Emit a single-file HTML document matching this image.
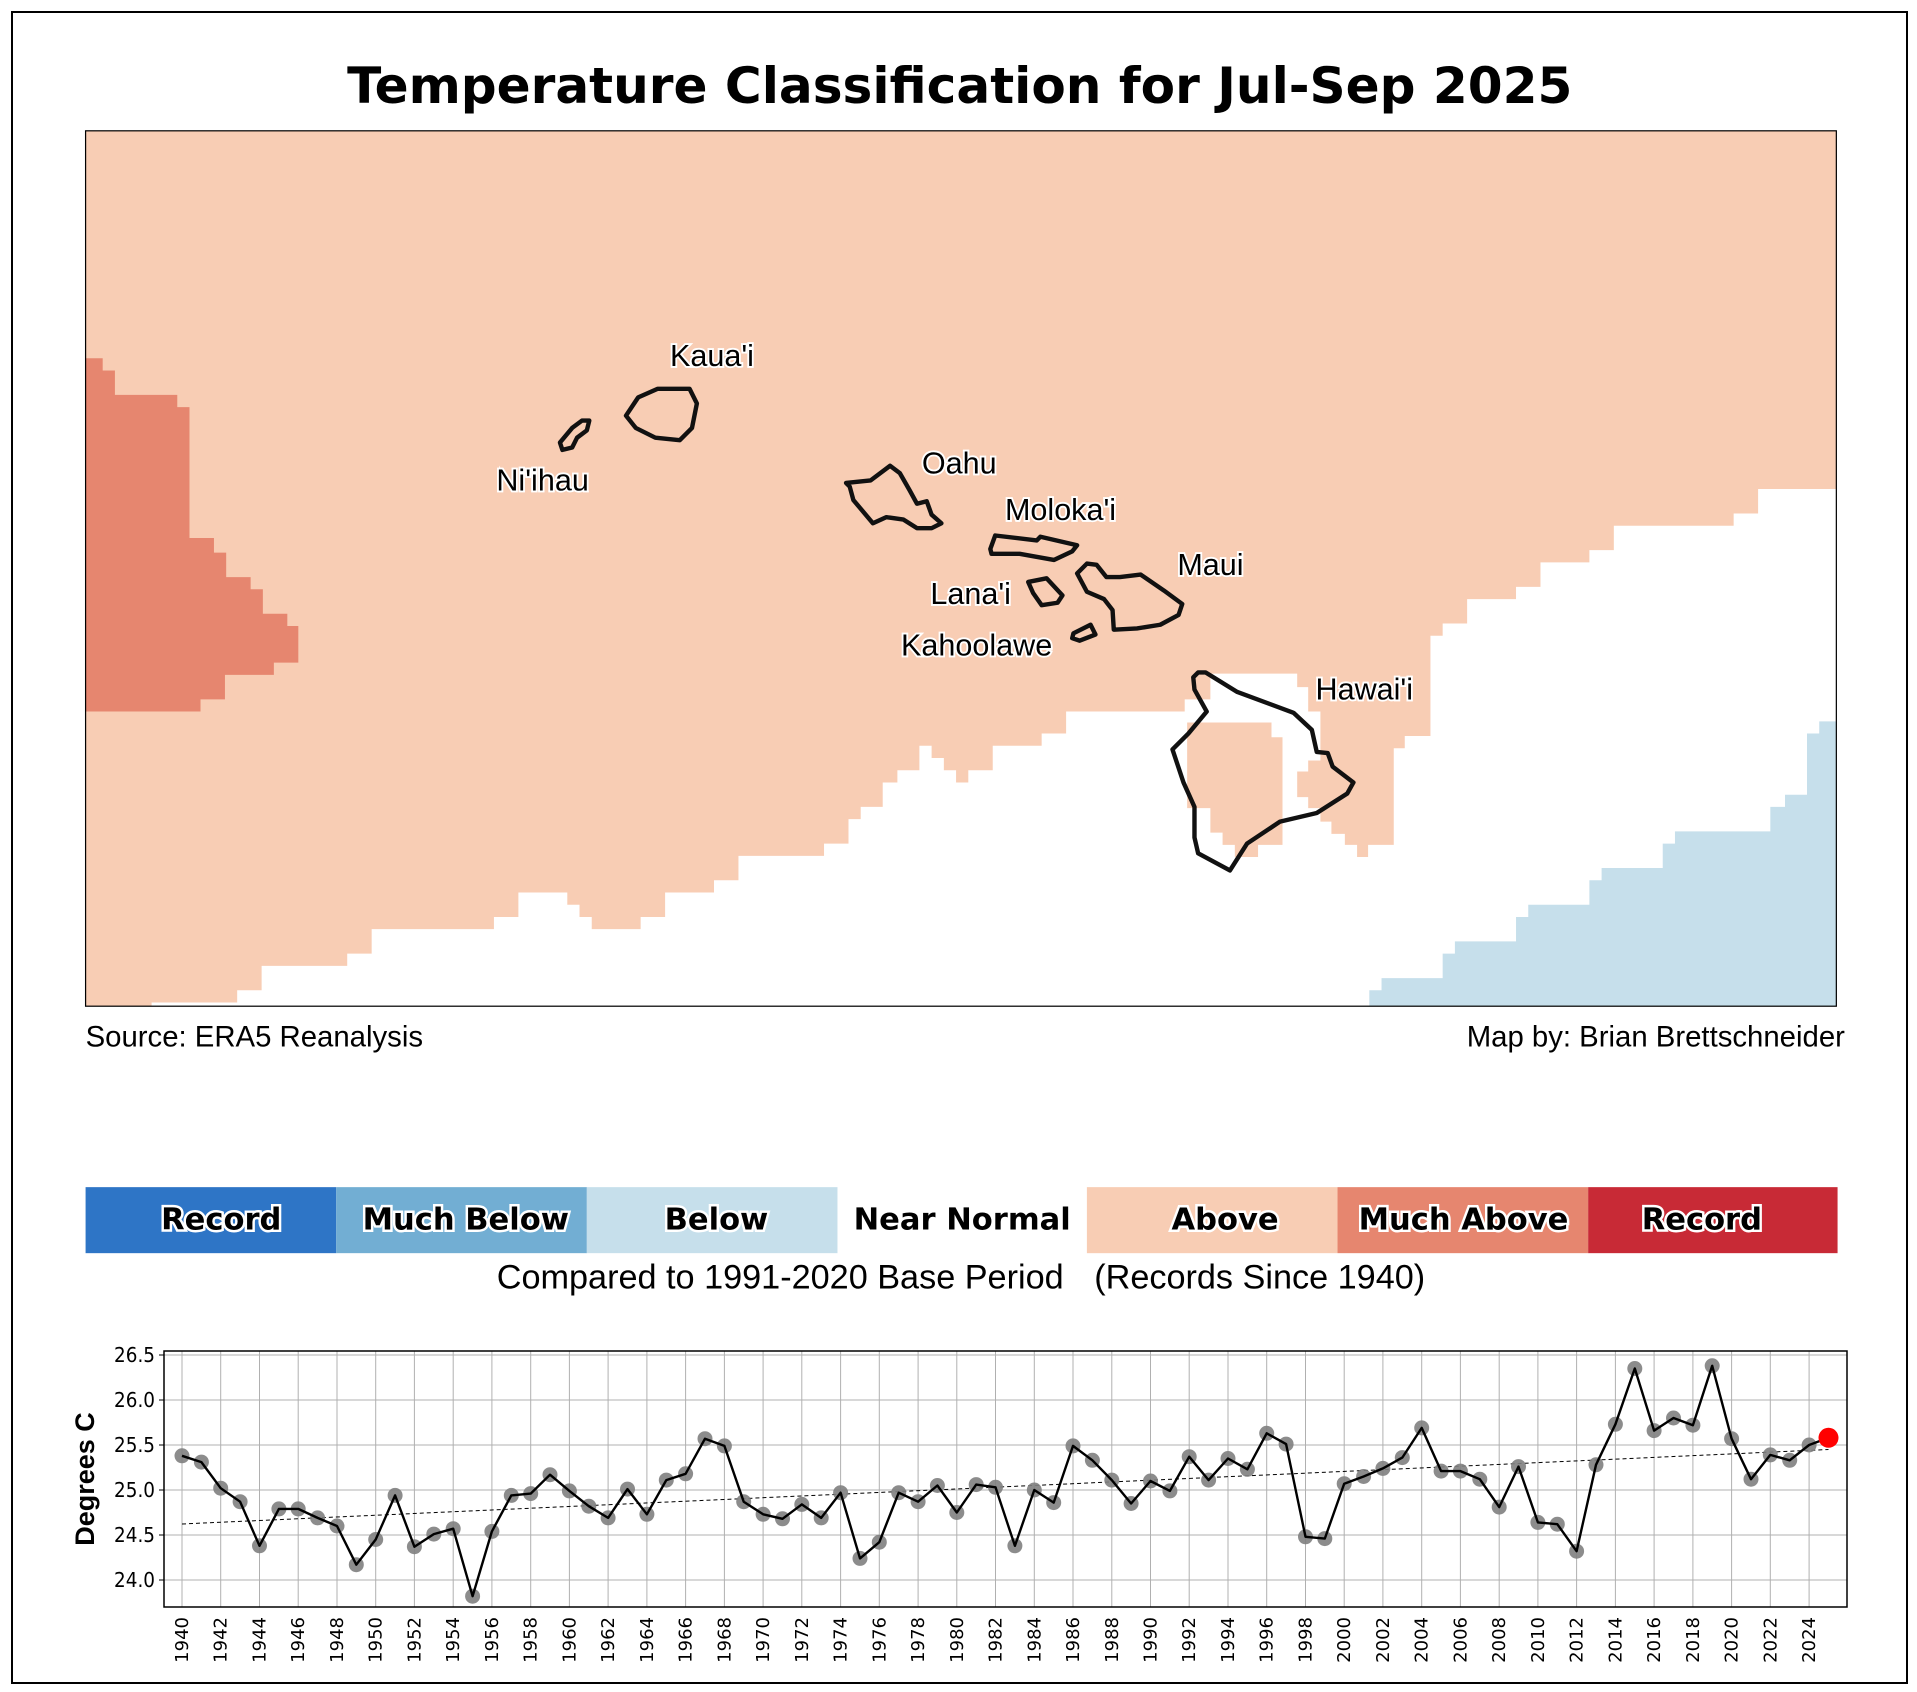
<!DOCTYPE html>
<html><head><meta charset="utf-8"><style>
html,body{margin:0;padding:0;background:#fff;}
svg{display:block;}
</style></head><body>
<svg width="1917" height="1692" viewBox="0 0 1917 1692" xmlns="http://www.w3.org/2000/svg">
<rect x="0" y="0" width="1917" height="1692" fill="#fff"/>
<rect x="12" y="12" width="1895" height="1671" fill="none" stroke="#000" stroke-width="2"/>
<g transform="scale(1.2226)">
<text x="785" y="70" text-anchor="middle" dominant-baseline="central" font-family="DejaVu Sans, sans-serif" font-weight="bold" font-size="41">Temperature Classification for Jul-Sep 2025</text>
<rect x="70" y="107" width="1432" height="716" fill="#f8cdb4"/>
<polygon fill="#e6866f" points="70,293 84,293 84,303 94,303 94,323 145,323 145,333 155,333 155,440 175,440 175,452 185,452 185,472 205,472 205,482 215,482 215,502 235,502 235,512 244,512 244,542 224,542 224,552 184,552 184,572 164,572 164,582 70,582"/>
<polygon fill="#fff" points="124,823 124,820 194,820 194,810 214,810 214,790 284,790 284,780 304,780 304,760 404,760 404,750 424,750 424,730 464,730 464,740 474,740 474,750 484,750 484,760 524,760 524,750 544,750 544,730 584,730 584,720 604,720 604,700 674,700 674,690 694,690 694,670 704,670 704,660 722,660 722,640 734,640 734,630 752,630 752,610 762,610 762,620 772,620 772,630 782,630 782,640 792,640 792,630 812,630 812,610 852,610 852,600 872,600 872,582 969,582 969,572 990,572 990,551 1061,551 1061,562 1070,562 1070,582 1080,582 1080,622 1070,622 1070,631 1061,631 1061,652 1070,652 1070,661 1080,661 1080,672 1089,672 1089,682 1100,682 1100,691 1110,691 1110,701 1119,701 1119,691 1140,691 1140,612 1149,612 1149,602 1170,602 1170,520 1180,520 1180,510 1200,510 1200,490 1240,490 1240,480 1260,480 1260,460 1300,460 1300,450 1320,450 1320,430 1418,430 1418,420 1438,420 1438,400 1502,400 1502,823"/>
<polygon fill="#f8cdb4" points="971,591 1040,591 1040,603 1049,603 1049,691 1029,691 1029,701 1010,701 1010,691 1000,691 1000,681 990,681 990,661 971,661"/>
<polygon fill="#c6dfeb" points="1120,823 1120,810 1130,810 1130,800 1180,800 1180,780 1190,780 1190,770 1240,770 1240,750 1250,750 1250,740 1300,740 1300,720 1310,720 1310,710 1360,710 1360,690 1370,690 1370,680 1448,680 1448,660 1460,660 1460,650 1478,650 1478,600 1488,600 1488,590 1502,590 1502,823"/>
<rect x="70" y="107" width="1432" height="716" fill="none" stroke="#000" stroke-width="1"/>
<g fill="none" stroke="#111" stroke-width="3.6" stroke-linejoin="round">
<polygon points="458,362 468,350 476,344 482,344 480,352 472,358 468,366 460,368"/>
<polygon points="512,340 522,325 538,318 564,318 570,330 566,350 556,360 536,358 520,350"/>
<polygon points="692,395 712,393 728,381 736,387 744,401 750,412 758,410 762,421 770,428 762,432 750,432 739,425 725,423 714,428 698,409 695,398"/>
<polygon points="814,438 848,442 851,439 881,446 877,451 862,458 834,453 811,453 810,449"/>
<polygon points="841,476 856,473 869,487 865,493 852,495 845,485"/>
<polygon points="881,469 889,461 897,462 905,472 916,472 933,470 952,483 967,494 964,503 949,511 930,514 911,515 910,499 903,490 889,484"/>
<polygon points="878,518 892,511 896,519 883,524 877,522"/>
<polygon points="980,550 986,550 1012,566 1058,583 1073,597 1077,615 1086,616 1090,627 1107,640 1102,649 1077,665 1047,672 1020,690 1006,712 980,698 977,685 977,660 968,640 959,613 972,600 987,582 977,564 976,554"/>
</g>
<g font-family="Liberation Sans, sans-serif" font-size="25" fill="#000" stroke="#fff" stroke-width="3" paint-order="stroke" dominant-baseline="central">
<text x="548" y="291">Kaua'i</text>
<text x="406" y="393">Ni'ihau</text>
<text x="754" y="379">Oahu</text>
<text x="822" y="417">Moloka'i</text>
<text x="963" y="462">Maui</text>
<text x="761" y="486">Lana'i</text>
<text x="737" y="528">Kahoolawe</text>
<text x="1076" y="564">Hawai'i</text>
</g>
<g font-family="Liberation Sans, sans-serif" font-size="24" fill="#000" dominant-baseline="central">
<text x="70" y="848">Source: ERA5 Reanalysis</text>
<text x="1509" y="848" text-anchor="end">Map by: Brian Brettschneider</text>
</g>
<rect x="70" y="971" width="205" height="54" fill="#2e75c6"/>
<rect x="275" y="971" width="205" height="54" fill="#72aed3"/>
<rect x="480" y="971" width="205" height="54" fill="#c6dfeb"/>
<rect x="685" y="971" width="204" height="54" fill="#fff"/>
<rect x="889" y="971" width="205" height="54" fill="#f8cdb4"/>
<rect x="1094" y="971" width="205" height="54" fill="#e6866f"/>
<rect x="1299" y="971" width="204" height="54" fill="#c82a36"/>
<g font-family="DejaVu Sans, sans-serif" font-weight="bold" font-size="25" text-anchor="middle" dominant-baseline="central" fill="#000" stroke="#fff" stroke-width="4" paint-order="stroke">
<text x="181" y="998">Record</text>
<text x="381" y="998">Much Below</text>
<text x="586" y="998">Below</text>
<text x="787" y="998">Near Normal</text>
<text x="1002" y="998">Above</text>
<text x="1197" y="998">Much Above</text>
<text x="1392" y="998">Record</text>
</g>
<g font-family="Liberation Sans, sans-serif" font-size="28" dominant-baseline="central">
<text x="870" y="1045" text-anchor="end">Compared to 1991-2020 Base Period</text>
<text x="895" y="1045">(Records Since 1940)</text>
</g>
</g>
<!-- time series -->
<g stroke="#b0b0b0" stroke-width="1">
<line x1="164" x2="1847" y1="1580" y2="1580"/><line x1="164" x2="1847" y1="1535" y2="1535"/><line x1="164" x2="1847" y1="1490" y2="1490"/><line x1="164" x2="1847" y1="1445" y2="1445"/><line x1="164" x2="1847" y1="1400" y2="1400"/><line x1="164" x2="1847" y1="1355" y2="1355"/>
<line x1="182" x2="182" y1="1351" y2="1607"/><line x1="220.7" x2="220.7" y1="1351" y2="1607"/><line x1="259.5" x2="259.5" y1="1351" y2="1607"/><line x1="298.2" x2="298.2" y1="1351" y2="1607"/><line x1="337" x2="337" y1="1351" y2="1607"/><line x1="375.7" x2="375.7" y1="1351" y2="1607"/><line x1="414.4" x2="414.4" y1="1351" y2="1607"/><line x1="453.2" x2="453.2" y1="1351" y2="1607"/><line x1="491.9" x2="491.9" y1="1351" y2="1607"/><line x1="530.7" x2="530.7" y1="1351" y2="1607"/><line x1="569.4" x2="569.4" y1="1351" y2="1607"/><line x1="608.1" x2="608.1" y1="1351" y2="1607"/><line x1="646.9" x2="646.9" y1="1351" y2="1607"/><line x1="685.6" x2="685.6" y1="1351" y2="1607"/><line x1="724.4" x2="724.4" y1="1351" y2="1607"/><line x1="763.1" x2="763.1" y1="1351" y2="1607"/><line x1="801.8" x2="801.8" y1="1351" y2="1607"/><line x1="840.6" x2="840.6" y1="1351" y2="1607"/><line x1="879.3" x2="879.3" y1="1351" y2="1607"/><line x1="918.1" x2="918.1" y1="1351" y2="1607"/><line x1="956.8" x2="956.8" y1="1351" y2="1607"/><line x1="995.5" x2="995.5" y1="1351" y2="1607"/><line x1="1034.3" x2="1034.3" y1="1351" y2="1607"/><line x1="1073" x2="1073" y1="1351" y2="1607"/><line x1="1111.8" x2="1111.8" y1="1351" y2="1607"/><line x1="1150.5" x2="1150.5" y1="1351" y2="1607"/><line x1="1189.2" x2="1189.2" y1="1351" y2="1607"/><line x1="1228" x2="1228" y1="1351" y2="1607"/><line x1="1266.7" x2="1266.7" y1="1351" y2="1607"/><line x1="1305.5" x2="1305.5" y1="1351" y2="1607"/><line x1="1344.2" x2="1344.2" y1="1351" y2="1607"/><line x1="1382.9" x2="1382.9" y1="1351" y2="1607"/><line x1="1421.7" x2="1421.7" y1="1351" y2="1607"/><line x1="1460.4" x2="1460.4" y1="1351" y2="1607"/><line x1="1499.2" x2="1499.2" y1="1351" y2="1607"/><line x1="1537.9" x2="1537.9" y1="1351" y2="1607"/><line x1="1576.6" x2="1576.6" y1="1351" y2="1607"/><line x1="1615.4" x2="1615.4" y1="1351" y2="1607"/><line x1="1654.1" x2="1654.1" y1="1351" y2="1607"/><line x1="1692.9" x2="1692.9" y1="1351" y2="1607"/><line x1="1731.6" x2="1731.6" y1="1351" y2="1607"/><line x1="1770.3" x2="1770.3" y1="1351" y2="1607"/><line x1="1809.1" x2="1809.1" y1="1351" y2="1607"/>
</g>
<rect x="164" y="1351" width="1683" height="256" fill="none" stroke="#000" stroke-width="1.5"/>
<g stroke="#000" stroke-width="1">
<line x1="159" x2="164" y1="1580" y2="1580"/><line x1="159" x2="164" y1="1535" y2="1535"/><line x1="159" x2="164" y1="1490" y2="1490"/><line x1="159" x2="164" y1="1445" y2="1445"/><line x1="159" x2="164" y1="1400" y2="1400"/><line x1="159" x2="164" y1="1355" y2="1355"/>
</g>
<g font-family="DejaVu Sans, sans-serif" font-size="20" text-anchor="end" dominant-baseline="central" transform="translate(155,0) scale(0.92,1) translate(-155,0)">
<text x="155" y="1580">24.0</text><text x="155" y="1535">24.5</text><text x="155" y="1490">25.0</text><text x="155" y="1445">25.5</text><text x="155" y="1400">26.0</text><text x="155" y="1355">26.5</text>
</g>
<text transform="translate(94,1479) rotate(-90)" text-anchor="middle" font-family="Liberation Sans, sans-serif" font-weight="bold" font-size="27">Degrees C</text>
<g font-family="DejaVu Sans, sans-serif" font-size="18" text-anchor="end">
<text transform="translate(188,1617) rotate(-90)">1940</text><text transform="translate(226.7,1617) rotate(-90)">1942</text><text transform="translate(265.5,1617) rotate(-90)">1944</text><text transform="translate(304.2,1617) rotate(-90)">1946</text><text transform="translate(343,1617) rotate(-90)">1948</text><text transform="translate(381.7,1617) rotate(-90)">1950</text><text transform="translate(420.4,1617) rotate(-90)">1952</text><text transform="translate(459.2,1617) rotate(-90)">1954</text><text transform="translate(497.9,1617) rotate(-90)">1956</text><text transform="translate(536.7,1617) rotate(-90)">1958</text><text transform="translate(575.4,1617) rotate(-90)">1960</text><text transform="translate(614.1,1617) rotate(-90)">1962</text><text transform="translate(652.9,1617) rotate(-90)">1964</text><text transform="translate(691.6,1617) rotate(-90)">1966</text><text transform="translate(730.4,1617) rotate(-90)">1968</text><text transform="translate(769.1,1617) rotate(-90)">1970</text><text transform="translate(807.8,1617) rotate(-90)">1972</text><text transform="translate(846.6,1617) rotate(-90)">1974</text><text transform="translate(885.3,1617) rotate(-90)">1976</text><text transform="translate(924.1,1617) rotate(-90)">1978</text><text transform="translate(962.8,1617) rotate(-90)">1980</text><text transform="translate(1001.5,1617) rotate(-90)">1982</text><text transform="translate(1040.3,1617) rotate(-90)">1984</text><text transform="translate(1079,1617) rotate(-90)">1986</text><text transform="translate(1117.8,1617) rotate(-90)">1988</text><text transform="translate(1156.5,1617) rotate(-90)">1990</text><text transform="translate(1195.2,1617) rotate(-90)">1992</text><text transform="translate(1234,1617) rotate(-90)">1994</text><text transform="translate(1272.7,1617) rotate(-90)">1996</text><text transform="translate(1311.5,1617) rotate(-90)">1998</text><text transform="translate(1350.2,1617) rotate(-90)">2000</text><text transform="translate(1388.9,1617) rotate(-90)">2002</text><text transform="translate(1427.7,1617) rotate(-90)">2004</text><text transform="translate(1466.4,1617) rotate(-90)">2006</text><text transform="translate(1505.2,1617) rotate(-90)">2008</text><text transform="translate(1543.9,1617) rotate(-90)">2010</text><text transform="translate(1582.6,1617) rotate(-90)">2012</text><text transform="translate(1621.4,1617) rotate(-90)">2014</text><text transform="translate(1660.1,1617) rotate(-90)">2016</text><text transform="translate(1698.9,1617) rotate(-90)">2018</text><text transform="translate(1737.6,1617) rotate(-90)">2020</text><text transform="translate(1776.3,1617) rotate(-90)">2022</text><text transform="translate(1815.1,1617) rotate(-90)">2024</text>
</g>
<line x1="182" y1="1524" x2="1828.5" y2="1449.5" stroke="#000" stroke-width="1" stroke-dasharray="4,3"/>
<g fill="#808080" fill-opacity="0.9">
<circle cx="182" cy="1455.8" r="7.5"/><circle cx="201.4" cy="1462.1" r="7.5"/><circle cx="220.7" cy="1488.2" r="7.5"/><circle cx="240.1" cy="1501.7" r="7.5"/><circle cx="259.5" cy="1545.8" r="7.5"/><circle cx="278.9" cy="1508.9" r="7.5"/><circle cx="298.2" cy="1508.9" r="7.5"/><circle cx="317.6" cy="1517.9" r="7.5"/><circle cx="337" cy="1526" r="7.5"/><circle cx="356.3" cy="1564.7" r="7.5"/><circle cx="375.7" cy="1539.5" r="7.5"/><circle cx="395.1" cy="1495.4" r="7.5"/><circle cx="414.4" cy="1546.7" r="7.5"/><circle cx="433.8" cy="1534.1" r="7.5"/><circle cx="453.2" cy="1528.7" r="7.5"/><circle cx="472.6" cy="1596.2" r="7.5"/><circle cx="491.9" cy="1531.4" r="7.5"/><circle cx="511.3" cy="1495.4" r="7.5"/><circle cx="530.7" cy="1493.6" r="7.5"/><circle cx="550" cy="1474.7" r="7.5"/><circle cx="569.4" cy="1490.9" r="7.5"/><circle cx="588.8" cy="1506.2" r="7.5"/><circle cx="608.1" cy="1517.9" r="7.5"/><circle cx="627.5" cy="1489.1" r="7.5"/><circle cx="646.9" cy="1514.3" r="7.5"/><circle cx="666.3" cy="1480.1" r="7.5"/><circle cx="685.6" cy="1473.8" r="7.5"/><circle cx="705" cy="1438.7" r="7.5"/><circle cx="724.4" cy="1445.9" r="7.5"/><circle cx="743.7" cy="1501.7" r="7.5"/><circle cx="763.1" cy="1514.3" r="7.5"/><circle cx="782.5" cy="1518.8" r="7.5"/><circle cx="801.8" cy="1504.4" r="7.5"/><circle cx="821.2" cy="1517.9" r="7.5"/><circle cx="840.6" cy="1492.7" r="7.5"/><circle cx="860" cy="1558.4" r="7.5"/><circle cx="879.3" cy="1542.2" r="7.5"/><circle cx="898.7" cy="1492.7" r="7.5"/><circle cx="918.1" cy="1501.7" r="7.5"/><circle cx="937.4" cy="1485.5" r="7.5"/><circle cx="956.8" cy="1512.5" r="7.5"/><circle cx="976.2" cy="1484.6" r="7.5"/><circle cx="995.5" cy="1487.3" r="7.5"/><circle cx="1014.9" cy="1545.8" r="7.5"/><circle cx="1034.3" cy="1490" r="7.5"/><circle cx="1053.7" cy="1502.6" r="7.5"/><circle cx="1073" cy="1445.9" r="7.5"/><circle cx="1092.4" cy="1460.3" r="7.5"/><circle cx="1111.8" cy="1480.1" r="7.5"/><circle cx="1131.1" cy="1503.5" r="7.5"/><circle cx="1150.5" cy="1481" r="7.5"/><circle cx="1169.9" cy="1490.9" r="7.5"/><circle cx="1189.2" cy="1456.7" r="7.5"/><circle cx="1208.6" cy="1480.1" r="7.5"/><circle cx="1228" cy="1458.5" r="7.5"/><circle cx="1247.4" cy="1469.3" r="7.5"/><circle cx="1266.7" cy="1433.3" r="7.5"/><circle cx="1286.1" cy="1444.1" r="7.5"/><circle cx="1305.5" cy="1536.8" r="7.5"/><circle cx="1324.8" cy="1538.6" r="7.5"/><circle cx="1344.2" cy="1483.7" r="7.5"/><circle cx="1363.6" cy="1476.5" r="7.5"/><circle cx="1382.9" cy="1468.4" r="7.5"/><circle cx="1402.3" cy="1457.6" r="7.5"/><circle cx="1421.7" cy="1427.9" r="7.5"/><circle cx="1441.1" cy="1471.1" r="7.5"/><circle cx="1460.4" cy="1471.1" r="7.5"/><circle cx="1479.8" cy="1479.2" r="7.5"/><circle cx="1499.2" cy="1507.1" r="7.5"/><circle cx="1518.5" cy="1466.6" r="7.5"/><circle cx="1537.9" cy="1522.4" r="7.5"/><circle cx="1557.3" cy="1524.2" r="7.5"/><circle cx="1576.6" cy="1551.2" r="7.5"/><circle cx="1596" cy="1464.8" r="7.5"/><circle cx="1615.4" cy="1424.3" r="7.5"/><circle cx="1634.8" cy="1368.5" r="7.5"/><circle cx="1654.1" cy="1430.6" r="7.5"/><circle cx="1673.5" cy="1418" r="7.5"/><circle cx="1692.9" cy="1425.2" r="7.5"/><circle cx="1712.2" cy="1365.8" r="7.5"/><circle cx="1731.6" cy="1438.7" r="7.5"/><circle cx="1751" cy="1479.2" r="7.5"/><circle cx="1770.3" cy="1454.9" r="7.5"/><circle cx="1789.7" cy="1460.3" r="7.5"/><circle cx="1809.1" cy="1445" r="7.5"/>
</g>
<polyline fill="none" stroke="#000" stroke-width="2.4" stroke-linejoin="round" points="182,1455.8 201.4,1462.1 220.7,1488.2 240.1,1501.7 259.5,1545.8 278.9,1508.9 298.2,1508.9 317.6,1517.9 337,1526 356.3,1564.7 375.7,1539.5 395.1,1495.4 414.4,1546.7 433.8,1534.1 453.2,1528.7 472.6,1596.2 491.9,1531.4 511.3,1495.4 530.7,1493.6 550,1474.7 569.4,1490.9 588.8,1506.2 608.1,1517.9 627.5,1489.1 646.9,1514.3 666.3,1480.1 685.6,1473.8 705,1438.7 724.4,1445.9 743.7,1501.7 763.1,1514.3 782.5,1518.8 801.8,1504.4 821.2,1517.9 840.6,1492.7 860,1558.4 879.3,1542.2 898.7,1492.7 918.1,1501.7 937.4,1485.5 956.8,1512.5 976.2,1484.6 995.5,1487.3 1014.9,1545.8 1034.3,1490 1053.7,1502.6 1073,1445.9 1092.4,1460.3 1111.8,1480.1 1131.1,1503.5 1150.5,1481 1169.9,1490.9 1189.2,1456.7 1208.6,1480.1 1228,1458.5 1247.4,1469.3 1266.7,1433.3 1286.1,1444.1 1305.5,1536.8 1324.8,1538.6 1344.2,1483.7 1363.6,1476.5 1382.9,1468.4 1402.3,1457.6 1421.7,1427.9 1441.1,1471.1 1460.4,1471.1 1479.8,1479.2 1499.2,1507.1 1518.5,1466.6 1537.9,1522.4 1557.3,1524.2 1576.6,1551.2 1596,1464.8 1615.4,1424.3 1634.8,1368.5 1654.1,1430.6 1673.5,1418 1692.9,1425.2 1712.2,1365.8 1731.6,1438.7 1751,1479.2 1770.3,1454.9 1789.7,1460.3 1809.1,1445 1828.5,1437.8"/>
<circle cx="1828.5" cy="1437.8" r="10" fill="#ff0000"/>
</svg>
</body></html>
